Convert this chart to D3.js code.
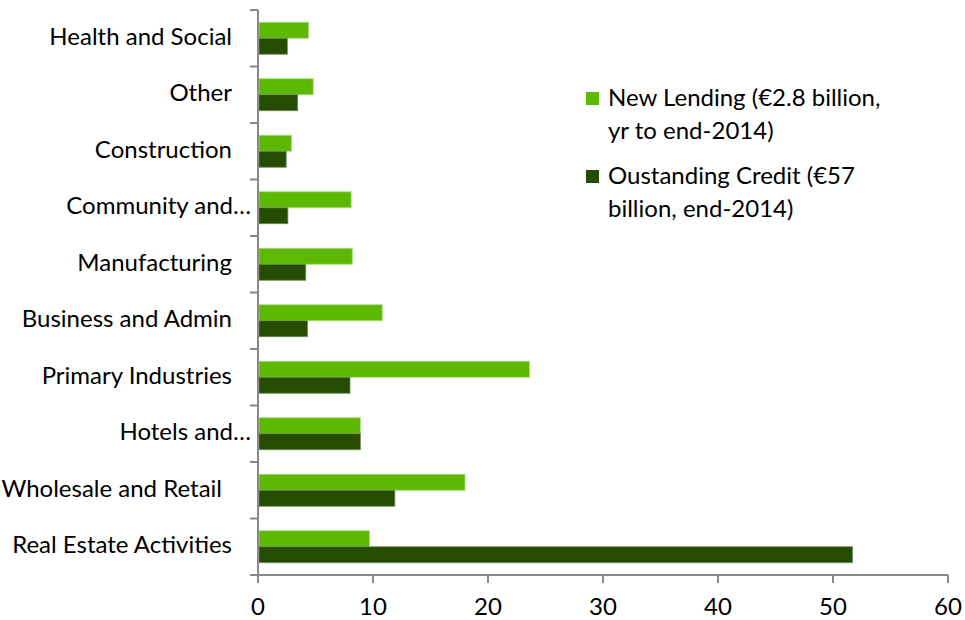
<!DOCTYPE html>
<html><head><meta charset="utf-8">
<script src="https://cdn.jsdelivr.net/npm/d3@7"></script>
<style>body{margin:0;background:#fff}svg{display:block}text{font-family:Lato,"Open Sans",sans-serif}</style>
</head><body><svg id="c" width="965" height="620"></svg>
<script>
const categories = ["Health and Social","Other","Construction","Community and…","Manufacturing","Business and Admin","Primary Industries","Hotels and…","Wholesale and Retail","Real Estate Activities"];
const newLending = [4.4, 4.8, 2.9, 8.1, 8.2, 10.8, 23.6, 8.9, 18.0, 9.7];
const outstandingCredit = [2.55, 3.45, 2.45, 2.6, 4.15, 4.3, 8.0, 8.9, 11.9, 51.7];
const xTicks = [0,10,20,30,40,50,60];
const seriesNames = [["New Lending (€2.8 billion,","yr to end-2014)"],["Oustanding Credit (€57","billion, end-2014)"]];
const colors = ["#5cb800","#254c00"];
const strokes = ["#a8dd80","#6e8a5a"];

const FS = 24;
const svg = d3.select("#c");
const L = 258, R = 948, T = 10, B = 575;
const x = d3.scaleLinear().domain([0,60]).range([L,R]);
const y = d3.scaleBand().domain(categories).range([T,B]).paddingInner(0.434).paddingOuter(0.217);
const sub = d3.scaleBand().domain([0,1]).range([0,y.bandwidth()]);

const series = [newLending, outstandingCredit];
series.forEach((vals,si)=>{
  svg.append("g").selectAll("rect").data(vals).join("rect")
    .attr("x", x(0)+1)
    .attr("y", (d,i)=>y(categories[i])+sub(si))
    .attr("width", d=>x(d)-x(0)-1)
    .attr("height", sub.bandwidth())
    .attr("fill", colors[si])
    .attr("stroke", strokes[si]).attr("stroke-width",0.8);
});

// y axis
const ga = svg.append("g").attr("stroke","#888").attr("stroke-width",2);
ga.append("line").attr("x1",L).attr("x2",L).attr("y1",T).attr("y2",B);
const step = (B-T)/categories.length;
d3.range(categories.length+1).forEach(i=>{
  ga.append("line").attr("x1",L-8).attr("x2",L).attr("y1",T+i*step).attr("y2",T+i*step);
});
// x axis
ga.append("line").attr("x1",L).attr("x2",R).attr("y1",B).attr("y2",B);
xTicks.forEach(t=>{
  ga.append("line").attr("x1",x(t)).attr("x2",x(t)).attr("y1",B).attr("y2",B+8);
});
svg.append("g").selectAll("text").data(xTicks).join("text")
  .attr("x",d=>x(d)).attr("y",615).attr("text-anchor","middle")
  .attr("font-size",FS).attr("fill","#000").text(d=>d);

// category labels
svg.append("g").selectAll("text").data(categories).join("text")
  .attr("x",d=>d.endsWith("…")?251:(d==="Wholesale and Retail"?222:232))
  .attr("y",d=>y(d)+y.bandwidth()/2+6.5)
  .attr("text-anchor","end").attr("font-size",FS).attr("fill","#000").text(d=>d);

// legend
const lg = svg.append("g");
seriesNames.forEach((lines,i)=>{
  const top = 92 + i*78;
  lg.append("rect").attr("x",586).attr("y",top).attr("width",13).attr("height",13).attr("fill",colors[i]);
  lines.forEach((ln,j)=>{
    lg.append("text").attr("x",608).attr("y",top+14+j*33).attr("font-size",FS).attr("fill","#000").text(ln);
  });
});
</script></body></html>
